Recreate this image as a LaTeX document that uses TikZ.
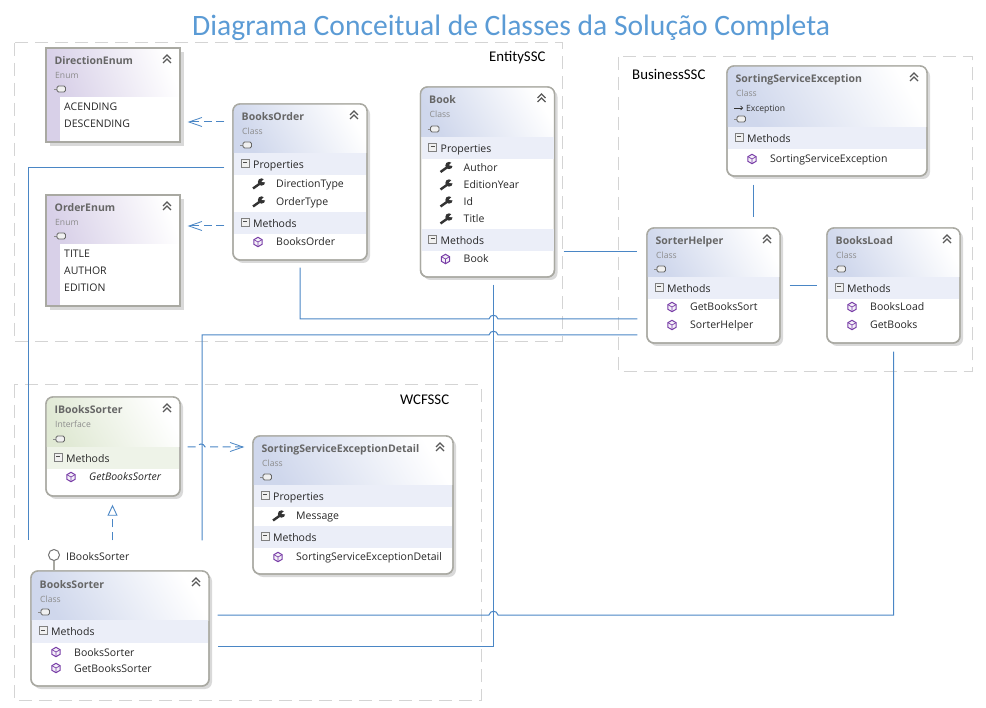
\documentclass[tikz,border=0pt]{standalone}
\usepackage{fontspec}
\setmainfont{Open Sans}
\newfontfamily\headfont{Carlito}
\usetikzlibrary{arrows.meta}

\definecolor{titleblue}{HTML}{5B9BD5}
\definecolor{linkblue}{HTML}{4A86C5}
\definecolor{framegray}{HTML}{D4D4D4}
\definecolor{boxgray}{HTML}{A9A9A2}
\definecolor{shadowgray}{HTML}{D9D9D9}
\definecolor{headblue}{HTML}{CFD7EC}
\definecolor{headviolet}{HTML}{D8D0E8}
\definecolor{headgreen}{HTML}{E0E9D4}
\definecolor{bandblue}{HTML}{EBEEF8}
\definecolor{bandgreen}{HTML}{EEF3E8}
\definecolor{iconviolet}{HTML}{7A3FA8}

\tikzset{
  frame/.style={draw=framegray,line width=1pt,dash pattern=on 13pt off 7pt},
  framelabel/.style={inner sep=0pt,anchor=base west,font=\headfont\fontsize{14.8}{15}\selectfont},
  link/.style={draw=linkblue,line width=1pt},
  deplink/.style={link,dash pattern=on 8pt off 4.5pt,-{Straight Barb[length=13pt,width=9pt,line width=.8pt]}},
  reallink/.style={link,dash pattern=on 8pt off 5pt,-{Triangle[open,length=11pt,width=10pt,line width=.9pt]}},
  classbox/.style={draw=boxgray,line width=1.4pt,fill=white,rounded corners=7pt,inner sep=0pt},
  enumbox/.style={draw=boxgray,line width=1.4pt,inner sep=0pt},
  boxtitle/.style={inner sep=0pt,anchor=base west,text=black!60,font=\bfseries\fontsize{10.5}{11}\selectfont},
  boxkind/.style={inner sep=0pt,anchor=base west,text=black!45,font=\fontsize{8.6}{9}\selectfont},
  member/.style={inner sep=0pt,anchor=base west,text=black!85,font=\fontsize{10.5}{11}\selectfont},
  chevrons/.pic={\draw[line width=1.1pt,black!65] (-4,-1) -- (0,-5) -- (4,-1) (-4,3) -- (0,-1) -- (4,3);},
  cylinder/.pic={\draw[black!45,line width=.6pt] (-6,0) -- (-3,0);
    \draw[black!60,fill=black!6,line width=.9pt,rounded corners=1.5pt] (-3,-3) rectangle (5.5,3);},
  minusbox/.pic={\draw[black!50,fill=black!6,line width=.8pt] (-4,-4) rectangle (4,4);
    \draw[black!70,line width=1pt] (-2,0) -- (2,0);},
  wrench/.pic={\draw[black!80,line width=2.4pt] (-6,4.5) -- (1,-.5);
    \fill[black!80] (2.5,-2) circle (3.7);
    \fill[white] (4.5,-4.5) -- (2.5,-2.2) -- (6.5,-1.5) -- (6.5,-5.5) -- cycle;},
  methodicon/.pic={\draw[iconviolet,line width=1pt,fill=iconviolet!8] (0,-4.7) -- (4.1,-2.3) -- (4.1,2.3) -- (0,4.7) -- (-4.1,2.3) -- (-4.1,-2.3) -- cycle;
    \draw[iconviolet,line width=.7pt] (-4.1,-2.3) -- (0,0) -- (4.1,-2.3) (0,0) -- (0,4.7);},
}

% id, left, top, right, bottom, header bottom, header colour, title, kind
\newcommand{\umlclass}[9]{
  \fill[shadowgray,rounded corners=7pt] (#2+3,#3+3) rectangle (#4+3,#5+3);
  \node[classbox,minimum width=#4pt-#2pt,minimum height=#5pt-#3pt] (#1) at ({(#2+#4)/2},{(#3+#5)/2}) {};
  \begin{scope}
    \clip[rounded corners=7pt] (#2,#3) rectangle (#4,#5);
    \shade[left color=#7,right color=white,shading angle=120] (#2,#3) rectangle (#4,#6);
  \end{scope}
  \draw[boxgray,line width=1.4pt,rounded corners=7pt] (#2,#3) rectangle (#4,#5);
  \node[boxtitle] (#1title) at (#2+8.5,#3+17) {#8};
  \node[boxkind] (#1kind) at (#2+9,#3+31) {#9};
  \pic at (#2+13,#6-8) {cylinder};
  \pic at (#4-13,#3+12) {chevrons};
}
% id, left, top, right, bottom, header bottom, title
\newcommand{\umlenum}[7]{
  \fill[shadowgray] (#2+4,#3+4) rectangle (#4+4,#5+4);
  \node[enumbox,fill=white,minimum width=#4pt-#2pt,minimum height=#5pt-#3pt] (#1) at ({(#2+#4)/2},{(#3+#5)/2}) {};
  \shade[left color=headviolet,right color=white,shading angle=110] (#2,#3) rectangle (#4,#6);
  \fill[headviolet] (#2,#6) rectangle (#2+14,#5);
  \draw[boxgray,line width=1.4pt] (#2,#3) rectangle (#4,#5);
  \node[boxtitle] (#1title) at (#2+8.5,#3+17) {#7};
  \node[boxkind] (#1kind) at (#2+9,#3+31) {Enum};
  \pic at (#2+14,#6-8) {cylinder};
  \pic at (#4-13,#3+12) {chevrons};
}
% id, left, right, band top, band colour, label
\newcommand{\umlgroup}[6]{
  \fill[#5] (#2+1,#4) rectangle (#3-1,#4+22.5);
  \pic at (#2+12,#4+10) {minusbox};
  \node[member] (#1) at (#2+20,#4+15.5) {#6};
}
% id, left, row centre, text
\newcommand{\umlprop}[4]{
  \pic at (#2+26,#3) {wrench};
  \node[member] (#1) at (#2+43,#3+4) {#4};
}
\newcommand{\umlmeth}[4]{
  \pic at (#2+25,#3) {methodicon};
  \node[member] (#1) at (#2+43,#3+4) {#4};
}

\begin{document}
\begin{tikzpicture}[x=1pt,y=-1pt]
  \useasboundingbox (0,0) rectangle (986,708);

  \node[inner sep=0pt,anchor=base west,text=titleblue,font=\headfont\fontsize{29.6}{30}\selectfont] (title) at (192,36) {Diagrama Conceitual de Classes da Solução Completa};

  % frames
  \draw[frame] (14,43) rectangle (562,342);
  \draw[frame] (618.5,57) rectangle (972,372);
  \draw[frame] (14,385) rectangle (481,700);
  \node[framelabel] (entityssc) at (489,62) {EntitySSC};
  \node[framelabel] (businessssc) at (632,80) {BusinessSSC};
  \node[framelabel] (wcfssc) at (400,405) {WCFSSC};

  % boxes
  \umlenum{directionenum}{46}{48}{180}{142}{97}{DirectionEnum}
  \node[member] (acending) at (64,111) {ACENDING};
  \node[member] (descending) at (64,128) {DESCENDING};

  \umlenum{orderenum}{46}{195}{180}{306}{244}{OrderEnum}
  \node[member] (titleval) at (64,258) {TITLE};
  \node[member] (authorval) at (64,275) {AUTHOR};
  \node[member] (editionval) at (64,292) {EDITION};

  \umlclass{booksorder}{233}{104}{367}{260}{153}{headblue}{BooksOrder}{Class}
  \umlgroup{boprops}{233}{367}{153}{bandblue}{Properties}
  \umlprop{bodirection}{233}{184}{DirectionType}
  \umlprop{boorder}{233}{202}{OrderType}
  \umlgroup{bometh}{233}{367}{212}{bandblue}{Methods}
  \umlmeth{boctor}{233}{242}{BooksOrder}

  \umlclass{book}{420.5}{87}{554.5}{277}{137}{headblue}{Book}{Class}
  \umlgroup{bkprops}{420.5}{554.5}{137}{bandblue}{Properties}
  \umlprop{bkauthor}{420.5}{167.5}{Author}
  \umlprop{bkedition}{420.5}{185}{EditionYear}
  \umlprop{bkid}{420.5}{202}{Id}
  \umlprop{bktitle}{420.5}{219}{Title}
  \umlgroup{bkmeth}{420.5}{554.5}{229}{bandblue}{Methods}
  \umlmeth{bkctor}{420.5}{259}{Book}

  \umlclass{ssexception}{727}{66}{927}{176}{127}{headblue}{SortingServiceException}{Class}
  \draw[black!80,line width=.7pt,-{Straight Barb[length=2pt,width=4pt]}] (734,108) -- (743,108);
  \node[boxkind,text=black!80] (ssbase) at (746,111.5) {Exception};
  \umlgroup{ssmeth}{727}{927}{127}{bandblue}{Methods}
  \umlmeth{ssctor}{727}{159}{SortingServiceException}

  \umlclass{sorterhelper}{647}{228}{780}{343}{277}{headblue}{SorterHelper}{Class}
  \umlgroup{shmeth}{647}{780}{277}{bandblue}{Methods}
  \umlmeth{shsort}{647}{307}{GetBooksSort}
  \umlmeth{shctor}{647}{325}{SorterHelper}

  \umlclass{booksload}{827}{228}{960}{343}{277}{headblue}{BooksLoad}{Class}
  \umlgroup{blmeth}{827}{960}{277}{bandblue}{Methods}
  \umlmeth{blctor}{827}{307}{BooksLoad}
  \umlmeth{blget}{827}{325}{GetBooks}

  \umlclass{ibookssorter}{46}{397}{180}{496}{447}{headgreen}{IBooksSorter}{Interface}
  \umlgroup{ibmeth}{46}{180}{447}{bandgreen}{Methods}
  \umlmeth{ibget}{46}{477}{\itshape GetBooksSorter}

  \umlclass{sedetail}{253}{436}{453}{574}{485}{headblue}{SortingServiceExceptionDetail}{Class}
  \umlgroup{sdprops}{253}{453}{485}{bandblue}{Properties}
  \umlprop{sdmessage}{253}{516}{Message}
  \umlgroup{sdmeth}{253}{453}{526}{bandblue}{Methods}
  \umlmeth{sdctor}{253}{557}{SortingServiceExceptionDetail}

  \umlclass{bookssorter}{31}{571}{209}{686}{620}{headblue}{BooksSorter}{Class}
  \umlgroup{bsmeth}{31}{209}{620}{bandblue}{Methods}
  \umlmeth{bsctor}{31}{652}{BooksSorter}
  \umlmeth{bsget}{31}{668}{GetBooksSorter}

  % lollipop
  \node[draw=black!55,line width=1pt,fill=white,circle,minimum size=11pt,inner sep=0pt] (lolli) at (54,555) {};
  \draw[boxgray,line width=1.2pt] (lolli) -- (lolli |- bookssorter.north);
  \node[member] (lollilabel) at (66,561) {IBooksSorter};

  % connectors
  \draw[deplink] ([shift={(-8,-60)}]booksorder.west) -- ([shift={(7,27)}]directionenum.east);
  \draw[deplink] ([shift={(-8,44)}]booksorder.west) -- ([shift={(7,-24.5)}]orderenum.east);
  \draw[link] ([shift={(-8,-14)}]booksorder.west) -| ([shift={(-92,-30)}]bookssorter.north);
  \draw[link] ([shift={(0,7)}]booksorder.south) -- (300,319) -- (489,319) .. controls (490,314) and (497,314) .. (498,319) -- ([shift={(-9,33.5)}]sorterhelper.west);
  \draw[link] ([shift={(6,7)}]book.south) |- ([shift={(8,17.5)}]bookssorter.east);
  \draw[link] ([shift={(-9,49.5)}]sorterhelper.west) -- (498,335) .. controls (497,330) and (490,330) .. (489,335) -- (202,335) -- ([shift={(82,-30)}]bookssorter.north);
  \draw[link] ([shift={(8.5,70)}]book.east) -- ([shift={(-9,-33.5)}]sorterhelper.west);
  \draw[link] ([shift={(9,0)}]sorterhelper.east) -- ([shift={(-9,0)}]booksload.west);
  \draw[link] ([shift={(-74,8)}]ssexception.south) -- ([shift={(39.5,-10)}]sorterhelper.north);
  \draw[link] ([shift={(0,8)}]booksload.south) -- (893.5,615) -- (498,615) .. controls (497,610) and (490,610) .. (489,615) -- ([shift={(8,-13.5)}]bookssorter.east);
  \draw[deplink] ([shift={(7,.5)}]ibookssorter.east) -- (197,447) .. controls (198,443) and (204,443) .. (205,447) -- ([shift={(-8,-58)}]sedetail.west);
  \draw[reallink] ([shift={(-7.5,-30)}]bookssorter.north) -- ([shift={(-.5,8)}]ibookssorter.south);
\end{tikzpicture}
\end{document}
